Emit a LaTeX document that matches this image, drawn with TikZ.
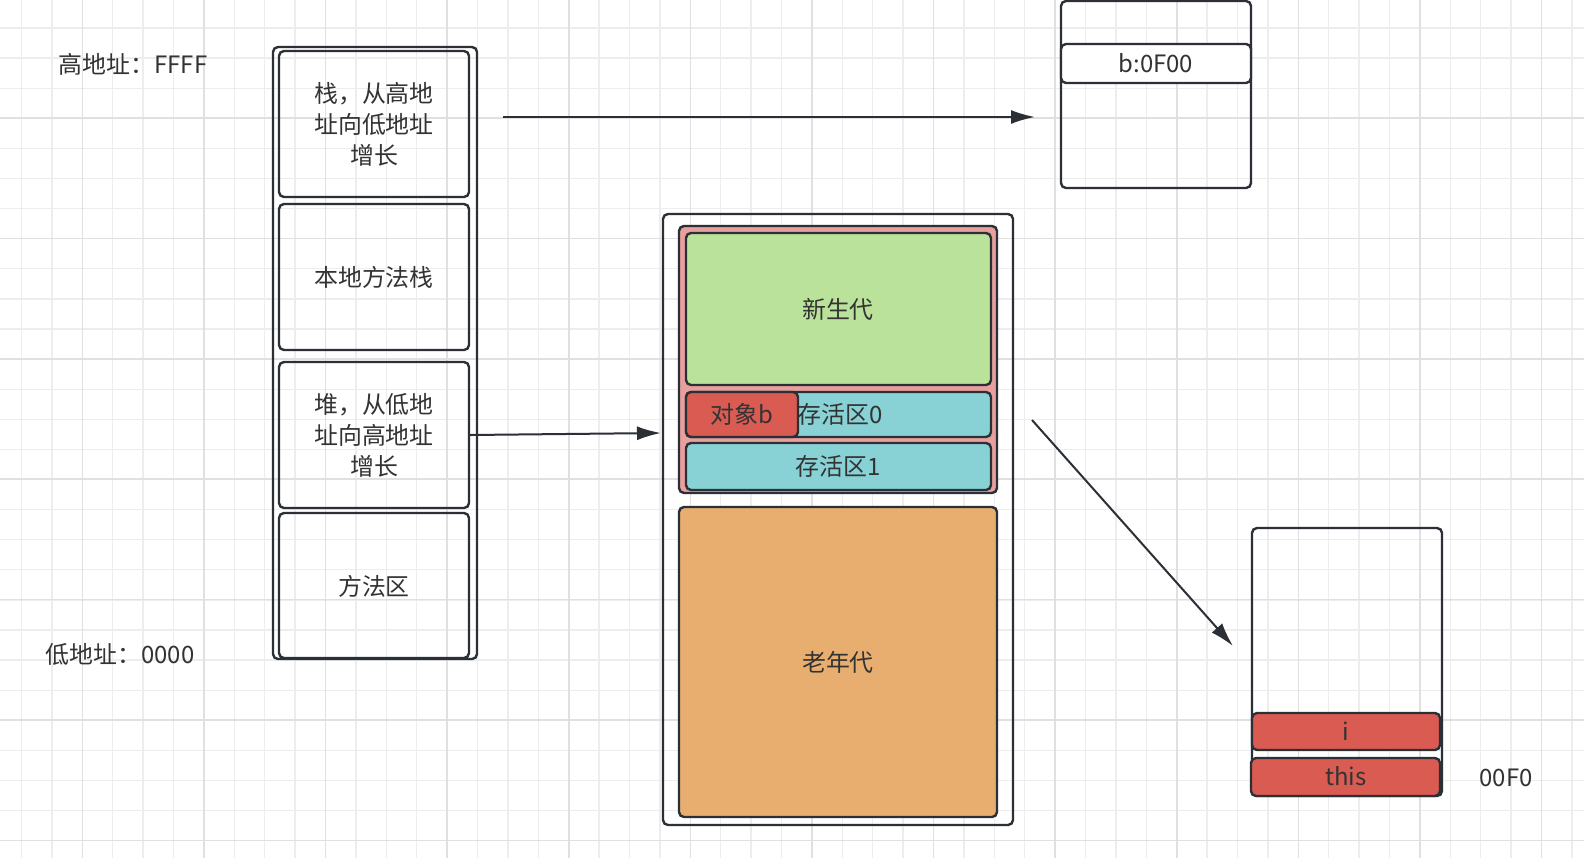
\documentclass[tikz,border=0pt]{standalone}
\usepackage{fontspec}
\setmainfont{Noto Sans CJK SC}
\usetikzlibrary{arrows.meta}
\begin{document}
\definecolor{ln}{HTML}{2B2F36}
\definecolor{tx}{HTML}{333333}
\definecolor{gA}{HTML}{BBE29A}
\definecolor{cA}{HTML}{88D2D6}
\definecolor{rA}{HTML}{D95B52}
\definecolor{pA}{HTML}{E8A09E}
\definecolor{oA}{HTML}{E8AE70}
\begin{tikzpicture}[x=1bp,y=-1bp,
 bx/.style={draw=ln,line width=2.4bp,rounded corners=5bp},
 t/.style={text=tx,font=\fontsize{24}{31}\selectfont,align=center},
 ar/.style={draw=ln,line width=2bp,-{Latex[length=24bp,width=14bp]}}]
\useasboundingbox (0,0) rectangle (1584,858);
\fill[white] (0,0) rectangle (1584,858);
\foreach \i in {0,...,52} \draw[gray!14,line width=1.3bp] (21.5+30.4*\i,0) -- (21.5+30.4*\i,858);
\foreach \i in {0,...,28} \draw[gray!14,line width=1.3bp] (0,28+30.1*\i) -- (1584,28+30.1*\i);
\foreach \i in {0,...,12} \draw[gray!24,line width=1.6bp] (82.3+121.6*\i,0) -- (82.3+121.6*\i,858);
\foreach \i in {0,...,6} \draw[gray!24,line width=1.6bp] (0,118+120.4*\i) -- (1584,118+120.4*\i);
\node[t] (hi) at (133,64) {高地址：FFFF};
\node[t] (lo) at (120,654) {低地址：0000};
% stack
\draw[bx] (273,47) rectangle (477,659);
\draw[bx] (279,51) rectangle (469,197); \node[t] (s1) at (374,124) {栈，从高地\\址向低地址\\增长};
\draw[bx] (279,204) rectangle (469,350); \node[t] (s2) at (374,277) {本地方法栈};
\draw[bx] (279,362) rectangle (469,508); \node[t] (s3) at (374,435) {堆，从低地\\址向高地址\\增长};
\draw[bx] (279,513) rectangle (469,658); \node[t] (s4) at (374,586) {方法区};
% top right
\draw[bx] (1061,1) rectangle (1251,188);
\draw[bx,fill=white] (1061,44) rectangle (1251,83); \node[t] (b) at (1156,63) {b:0F00};
% heap
\draw[bx] (663,214) rectangle (1013,825);
\draw[bx,fill=pA] (679,226) rectangle (997,493);
\draw[bx,fill=gA] (686,233) rectangle (991,385); \node[t] (g) at (838,309) {新生代};
\draw[bx,fill=cA] (686,392) rectangle (991,437); \node[t] (c0) at (840,414) {存活区0};
\draw[bx,fill=rA] (686,392) rectangle (798,437); \node[t] (ob) at (742,414) {对象b};
\draw[bx,fill=cA] (686,443) rectangle (991,490); \node[t] (c1) at (838,466) {存活区1};
\draw[bx,fill=oA] (679,507) rectangle (997,817); \node[t] (old) at (838,662) {老年代};
% bottom right
\draw[bx] (1252,528) rectangle (1442,796);
\draw[bx,fill=rA] (1252,713) rectangle (1440,750); \node[t] (i) at (1346,731) {i};
\draw[bx,fill=rA] (1251,758) rectangle (1440,796); \node[t] (th) at (1346,776) {this};
\node[t] (ad) at (1506,778) {00F0};
% arrows
\coordinate (a1) at (503,117); \coordinate (a2) at (1035,117);
\draw[ar] (a1) -- (a2);
\coordinate (a3) at (470,435); \coordinate (a4) at (661,433);
\draw[ar] (a3) -- (a4);
\coordinate (a5) at (1032,420); \coordinate (a6) at (1233,646);
\draw[ar] (a5) -- (a6);
\end{tikzpicture}
\end{document}
